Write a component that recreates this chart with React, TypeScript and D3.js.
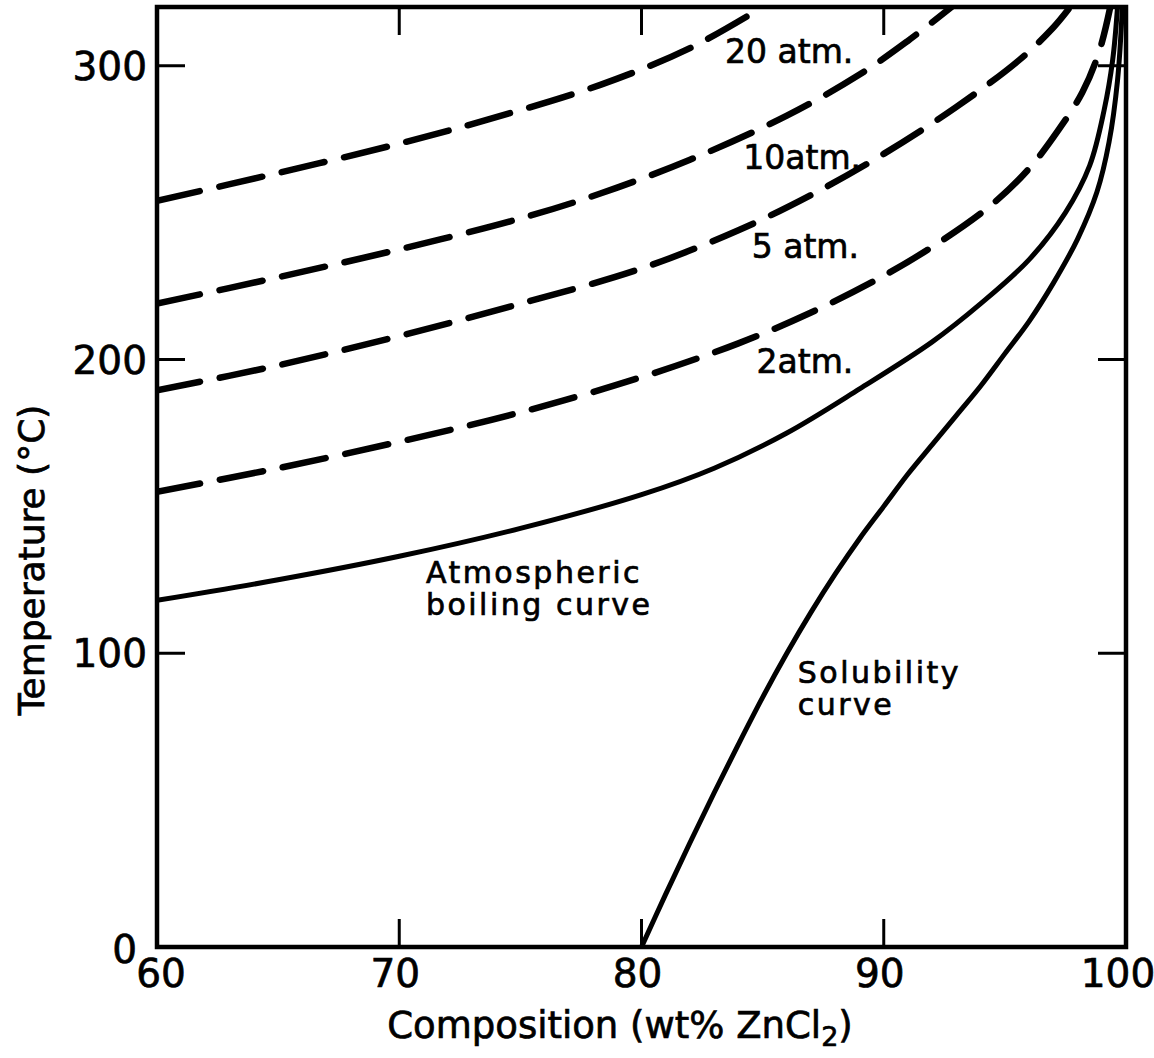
import React, { useEffect, useRef } from 'react';
import * as d3 from 'd3';

// axis ticks
const compositionTicks = [60, 70, 80, 90, 100];
const temperatureTicks = [0, 100, 200, 300];

// curves: [wt% ZnCl2, temperature °C]
const atmosphericBoiling: [number, number][] = [
  [60, 118], [65, 125], [70, 133], [75, 142.5], [80, 154], [83, 163], [86, 175],
  [89, 190], [92, 206], [94, 219], [96, 234], [97.5, 250], [98.5, 266],
  [99.1, 285], [99.45, 302], [99.65, 320]
];
const boiling2atm: [number, number][] = [
  [60, 155], [65, 163], [70, 172], [75, 182], [80, 194], [84, 205.5], [87, 216],
  [90, 228.5], [92.5, 241], [94.5, 253], [96, 265], [97.2, 278], [98.2, 291],
  [98.9, 305], [99.35, 320]
];
const boiling5atm: [number, number][] = [
  [60, 189.5], [65, 198], [70, 208], [75, 219], [80, 231], [84, 244], [87, 256],
  [90, 270], [93, 286], [95.6, 302], [97, 313], [97.7, 320]
];
const boiling10atm: [number, number][] = [
  [60, 219], [65, 228], [70, 237.5], [75, 248], [78.3, 256.5], [82, 268],
  [86, 283], [89, 297], [91, 308.5], [92.8, 320]
];
const boiling20atm: [number, number][] = [
  [60, 254], [65, 263.5], [70, 273.5], [74, 282.5], [78.3, 293.5], [82, 306], [85, 320]
];
const solubility: [number, number][] = [
  [80, 0], [81, 18], [82, 35.5], [83, 52.5], [84, 69], [85, 85], [86, 100],
  [87, 114], [88, 127], [89, 139], [90, 150], [91, 161], [92, 171], [93, 181],
  [94, 191], [95, 202], [96, 213], [97, 226], [98, 241], [98.8, 257],
  [99.3, 274], [99.65, 295], [99.85, 320]
];

const solidCurves = [atmosphericBoiling, solubility];
const dashedCurves = [boiling2atm, boiling5atm, boiling10atm, boiling20atm];

// annotations, anchored in data units (start of text baseline)
const curveLabels = [
  { lines: ['20 atm.'], comp: 83.45, temp: 301 },
  { lines: ['10atm.'], comp: 84.2, temp: 265 },
  { lines: ['5 atm.'], comp: 84.55, temp: 234.5 },
  { lines: ['2atm.'], comp: 84.75, temp: 195.5 },
  { lines: ['Atmospheric', 'boiling curve'], comp: 71.1, temp: 124 },
  { lines: ['Solubility', 'curve'], comp: 86.45, temp: 90 }
];

const FONT = '"DejaVu Sans", sans-serif';

const ZincChlorideChart = () => {
  const svgRef = useRef<SVGSVGElement | null>(null);

  useEffect(() => {
    if (!svgRef.current) return;
    const svg = d3.select(svgRef.current);
    svg.selectAll('*').remove();

    const left = 157, right = 1126, top = 7, bottom = 947;

    const x = d3.scaleLinear().domain([60, 100]).range([left, right]);
    const y = d3.scaleLinear().domain([0, 320]).range([bottom, top]);

    svg.append('rect').attr('width', 1154).attr('height', 1058).attr('fill', '#fff');

    svg.append('defs').append('clipPath').attr('id', 'plot-clip')
      .append('rect')
      .attr('x', left).attr('y', top)
      .attr('width', right - left).attr('height', bottom - top);

    const line = d3.line<[number, number]>()
      .x(d => x(d[0]))
      .y(d => y(d[1]))
      .curve(d3.curveCatmullRom.alpha(0.5));

    const curves = svg.append('g').attr('clip-path', 'url(#plot-clip)');

    dashedCurves.forEach(c => {
      curves.append('path')
        .attr('d', line(c))
        .attr('fill', 'none')
        .attr('stroke', '#000')
        .attr('stroke-width', 6.5)
        .attr('stroke-linecap', 'round')
        .attr('stroke-dasharray', '44 20');
    });

    solidCurves.forEach(c => {
      curves.append('path')
        .attr('d', line(c))
        .attr('fill', 'none')
        .attr('stroke', '#000')
        .attr('stroke-width', 5);
    });

    // inward ticks on all four sides
    const ticks = svg.append('g').attr('stroke', '#000').attr('stroke-width', 3);
    const tickLen = 28;
    compositionTicks.slice(1, -1).forEach(t => {
      ticks.append('line').attr('x1', x(t)).attr('x2', x(t)).attr('y1', bottom).attr('y2', bottom - tickLen);
      ticks.append('line').attr('x1', x(t)).attr('x2', x(t)).attr('y1', top).attr('y2', top + tickLen);
    });
    temperatureTicks.slice(1).forEach(t => {
      ticks.append('line').attr('x1', left).attr('x2', left + tickLen).attr('y1', y(t)).attr('y2', y(t));
      ticks.append('line').attr('x1', right).attr('x2', right - tickLen).attr('y1', y(t)).attr('y2', y(t));
    });

    // frame
    svg.append('rect')
      .attr('x', left).attr('y', top)
      .attr('width', right - left).attr('height', bottom - top)
      .attr('fill', 'none')
      .attr('stroke', '#000')
      .attr('stroke-width', 4.5);

    const ink = (sel: any) => sel
      .attr('font-family', FONT)
      .attr('fill', '#000')
      .attr('stroke', '#000')
      .attr('stroke-width', 0.7);

    // tick labels
    svg.append('g').selectAll('text')
      .data(compositionTicks)
      .join('text')
      .attr('x', d => x(d) + (d === 60 ? 4 : d === 100 ? -8 : -4))
      .attr('y', bottom + 40)
      .attr('text-anchor', 'middle')
      .attr('font-size', 39)
      .call(ink)
      .text(d => d);

    svg.append('g').selectAll('text')
      .data(temperatureTicks)
      .join('text')
      .attr('x', d => left - (d === 0 ? 20 : 10))
      .attr('y', d => y(d) + 14 + (d === 0 ? 2 : 0))
      .attr('text-anchor', 'end')
      .attr('font-size', 39)
      .call(ink)
      .text(d => d);

    // axis titles
    const xTitle = svg.append('text')
      .attr('x', 620)
      .attr('y', 1038)
      .attr('text-anchor', 'middle')
      .attr('font-size', 37)
      .call(ink);
    xTitle.append('tspan').text('Composition  (wt% ZnCl');
    xTitle.append('tspan').attr('font-size', 27).attr('dy', 8).text('2');
    xTitle.append('tspan').attr('dy', -8).text(')');

    svg.append('text')
      .attr('transform', 'translate(44,560) rotate(-90)')
      .attr('text-anchor', 'middle')
      .attr('font-size', 36)
      .call(ink)
      .text('Temperature (°C)');

    // curve annotations
    curveLabels.forEach(l => {
      const multi = l.lines.length > 1;
      const t = svg.append('text')
        .attr('x', x(l.comp))
        .attr('y', y(l.temp))
        .attr('font-size', multi ? 30 : 33)
        .attr('letter-spacing', multi ? 2.5 : 0)
        .call(ink);
      l.lines.forEach((s, i) => {
        t.append('tspan')
          .attr('x', x(l.comp))
          .attr('dy', i === 0 ? 0 : 32)
          .text(s);
      });
    });
  }, []);

  return (
    <>
      <style>{'body{margin:0}'}</style>
      <svg ref={svgRef} width={1154} height={1058} style={{ display: 'block' }} />
    </>
  );
};

export default ZincChlorideChart;
